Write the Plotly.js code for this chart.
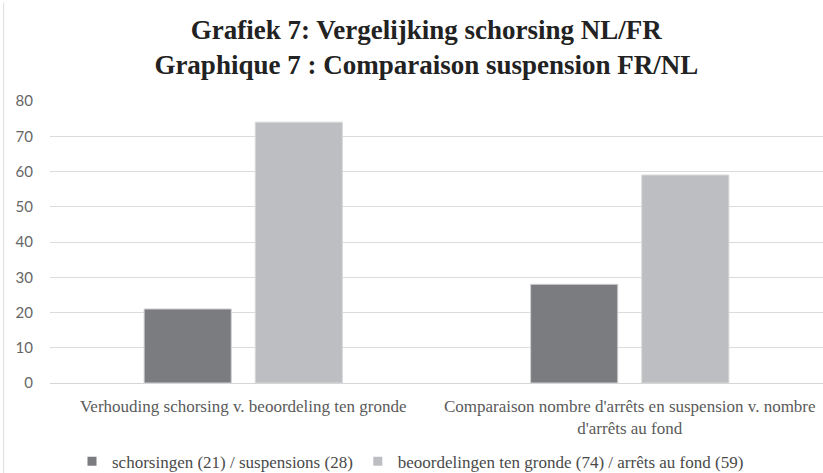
<!DOCTYPE html>
<html><head><meta charset="utf-8">
<script src="https://cdn.plot.ly/plotly-3.0.1.min.js"></script>
<style>html,body{margin:0;padding:0;background:#fff;}#chart{width:823px;height:473px;}</style>
</head><body><div id="chart"></div>
<script>
const categories = ["Verhouding schorsing v. beoordeling ten gronde", "Comparaison nombre d'arrêts en suspension v. nombre<br>d'arrêts au fond"];
const seriesNames = ["schorsingen (21) / suspensions (28)", "beoordelingen ten gronde (74) / arrêts au fond (59)"];
const schorsingen = [21, 28];
const gronde = [74, 59];
const yTicks = [0, 10, 20, 30, 40, 50, 60, 70, 80];
const colors = ['#7b7c80', '#bdbec2'];

const traces = [
  {type:'bar', x:categories, y:schorsingen, name:seriesNames[0], showlegend:false,
   marker:{color:colors[0], line:{color:'#d0d0d2', width:1}}, hoverinfo:'none'},
  {type:'bar', x:categories, y:gronde, name:seriesNames[1], showlegend:false,
   marker:{color:colors[1], line:{color:'#d8d8da', width:1}}, hoverinfo:'none'},
  {type:'scatter', mode:'markers', x:[categories[0]], y:[null], name:seriesNames[0],
   marker:{symbol:'square', size:9, color:colors[0]}, hoverinfo:'none'},
  {type:'scatter', mode:'markers', x:[categories[0]], y:[null], name:seriesNames[1],
   marker:{symbol:'square', size:9, color:colors[1]}, hoverinfo:'none'}
];
const layout = {
  width:823, height:473,
  margin:{l:50, r:0, t:101, b:90},
  paper_bgcolor:'#fff', plot_bgcolor:'#fff',
  barmode:'group', bargap:0.425, bargroupgap:0.216,
  title:{text:'<b>Grafiek 7: Vergelijking schorsing NL/FR<br>Graphique 7 : Comparaison suspension FR/NL</b>',
    font:{family:'Liberation Serif, Times New Roman, serif', size:27, color:'#222'},
    xref:'container', x:0.518, xanchor:'center', yref:'container', y:0.918, yanchor:'top'},
  xaxis:{tickfont:{family:'Liberation Serif, serif', size:17, color:'#5a5a5a'}, showline:false, ticks:'', showgrid:false,
    ticklabelstandoff:11, fixedrange:true},
  yaxis:{range:[0,80], tickvals:yTicks, ticktext:yTicks.map(String), showgrid:true, gridcolor:'#dcdcdc', gridwidth:1,
    zeroline:true, zerolinecolor:'#d6d6d6', zerolinewidth:1, showline:false,
    tickfont:{family:'Lato, Open Sans, sans-serif', size:15, color:'#666'}, ticks:'', ticklen:0, ticklabelstandoff:16, fixedrange:true},
  legend:{orientation:'h', x:72/823, xref:'container', xanchor:'left', y:0.024, yref:'container', yanchor:'middle',
    font:{family:'Liberation Serif, serif', size:17, color:'#4a4a4a'}, itemwidth:30, traceorder:'normal'},
  shapes:[{type:'line', xref:'paper', yref:'paper', x0:-0.06, x1:-0.06, y0:-0.35, y1:1.35, line:{color:'#dddddd', width:1}}],
  showlegend:true
};
Plotly.newPlot('chart', traces, layout, {displayModeBar:false, staticPlot:true});
</script></body></html>
